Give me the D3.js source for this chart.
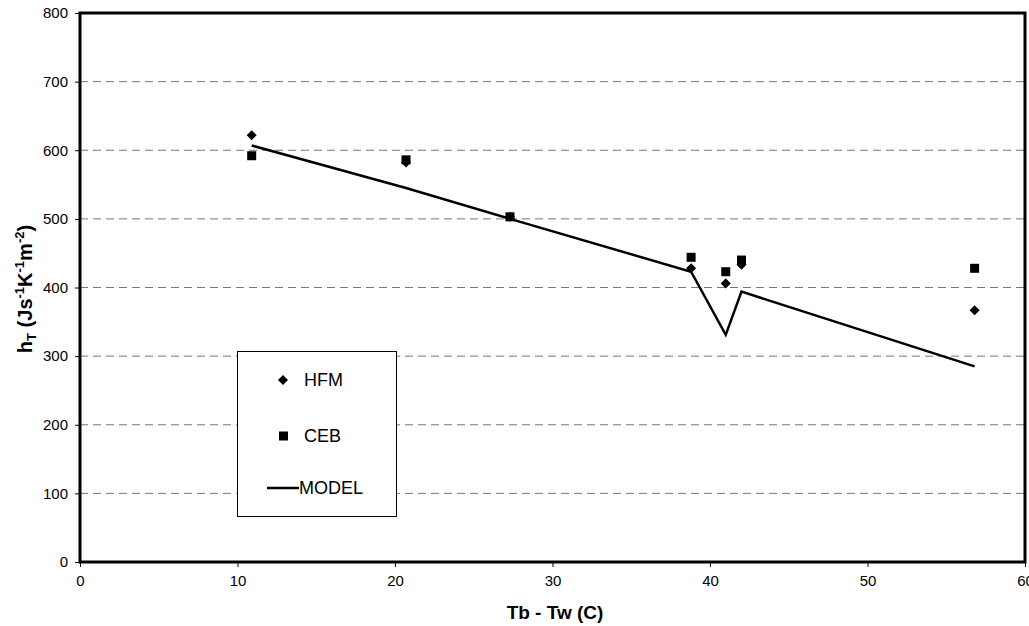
<!DOCTYPE html>
<html><head><meta charset="utf-8">
<script src="https://d3js.org/d3.v7.min.js"></script>
<style>body{margin:0;background:#fff}svg{display:block}text{font-family:"Liberation Sans",Arial,sans-serif}</style>
</head><body><svg id="c" width="1029" height="626"></svg>
<script>
const xTicks=[0,10,20,30,40,50,60];
const yTicks=[0,100,200,300,400,500,600,700,800];
const hfmX=[10.9,20.7,27.3,38.8,41.0,42.0,56.8];
const hfmY=[622,582,503,428,406,433,367];
const cebX=[10.9,20.7,27.3,38.8,41.0,42.0,56.8];
const cebY=[592,586,503,444,423,440,428];
const modelX=[10.9,20.7,27.3,38.8,41.0,42.0,56.8];
const modelY=[607,545,500,423,331,394,285];
const legendLabels=["HFM","CEB","MODEL"];

const svg=d3.select("#c");
const L=80,R=1025,T=13,B=562;
const x=d3.scaleLinear().domain([0,60]).range([L,R]);
const y=d3.scaleLinear().domain([0,800]).range([B,T]);

// grid
svg.append("g").selectAll("line").data(yTicks.filter(d=>d>0&&d<800)).join("line")
 .attr("x1",L).attr("x2",R).attr("y1",d=>y(d)).attr("y2",d=>y(d))
 .attr("stroke","#777").attr("stroke-width",1).attr("stroke-dasharray","8,5");

// axes
const ya=svg.append("g").attr("transform",`translate(${L},0)`)
 .call(d3.axisLeft(y).tickValues(yTicks).tickSize(5).tickPadding(7).tickFormat(d3.format("d")));
const xa=svg.append("g").attr("transform",`translate(0,${B})`)
 .call(d3.axisBottom(x).tickValues(xTicks).tickSize(5).tickPadding(8).tickFormat(d3.format("d")));
[ya,xa].forEach(a=>{a.select(".domain").remove();a.selectAll("text").attr("font-size",15).attr("fill","#000").style("font-family","Liberation Sans, Arial, sans-serif");a.selectAll("line").attr("stroke","#000");});

// model line
svg.append("path").datum(modelX.map((d,i)=>[d,modelY[i]]))
 .attr("d",d3.line().x(d=>x(d[0])).y(d=>y(d[1])))
 .attr("fill","none").attr("stroke","#000").attr("stroke-width",2.5);

// CEB squares
svg.append("g").selectAll("rect").data(cebX.map((d,i)=>[d,cebY[i]])).join("rect")
 .attr("x",d=>x(d[0])-4.5).attr("y",d=>y(d[1])-4.5).attr("width",9).attr("height",9).attr("fill","#000");
// HFM diamonds
const dia=d3.symbol().type(d3.symbolDiamond2).size(64);
svg.append("g").selectAll("path").data(hfmX.map((d,i)=>[d,hfmY[i]])).join("path")
 .attr("d",dia).attr("transform",d=>`translate(${x(d[0])},${y(d[1])})`).attr("fill","#000");

// frame
svg.append("rect").attr("x",L).attr("y",T).attr("width",R-L).attr("height",B-T)
 .attr("fill","none").attr("stroke","#000").attr("stroke-width",3);

// legend
const lg=svg.append("g");
lg.append("rect").attr("x",237.5).attr("y",351.5).attr("width",159).attr("height",165)
 .attr("fill","#fff").attr("stroke","#000").attr("stroke-width",1);
lg.append("path").attr("d",dia).attr("transform","translate(283,380)").attr("fill","#000");
lg.append("rect").attr("x",279).attr("y",431.5).attr("width",9).attr("height",9).attr("fill","#000");
lg.append("line").attr("x1",267).attr("x2",299).attr("y1",488).attr("y2",488).attr("stroke","#000").attr("stroke-width",2.5);
const ly=[380,436,488];
legendLabels.forEach((t,i)=>lg.append("text").attr("x",i==2?299:304).attr("y",ly[i]).attr("dy","0.36em")
 .attr("font-size",18).text(t));

// axis titles
svg.append("text").attr("x",555).attr("y",619).attr("text-anchor","middle")
 .attr("font-size",19).attr("font-weight","bold").text("Tb - Tw (C)");
const yt=svg.append("text").attr("transform",`translate(32,289) rotate(-90)`)
 .attr("text-anchor","middle").attr("font-size",20).attr("font-weight","bold");
yt.append("tspan").text("h");
yt.append("tspan").attr("font-size",13).attr("dy",4).text("T");
yt.append("tspan").attr("dy",-4).text(" (Js");
yt.append("tspan").attr("font-size",13).attr("dy",-8).text("-1");
yt.append("tspan").attr("dy",8).text("K");
yt.append("tspan").attr("font-size",13).attr("dy",-8).text("-1");
yt.append("tspan").attr("dy",8).text("m");
yt.append("tspan").attr("font-size",13).attr("dy",-8).text("-2");
yt.append("tspan").attr("dy",8).text(")");
</script></body></html>
